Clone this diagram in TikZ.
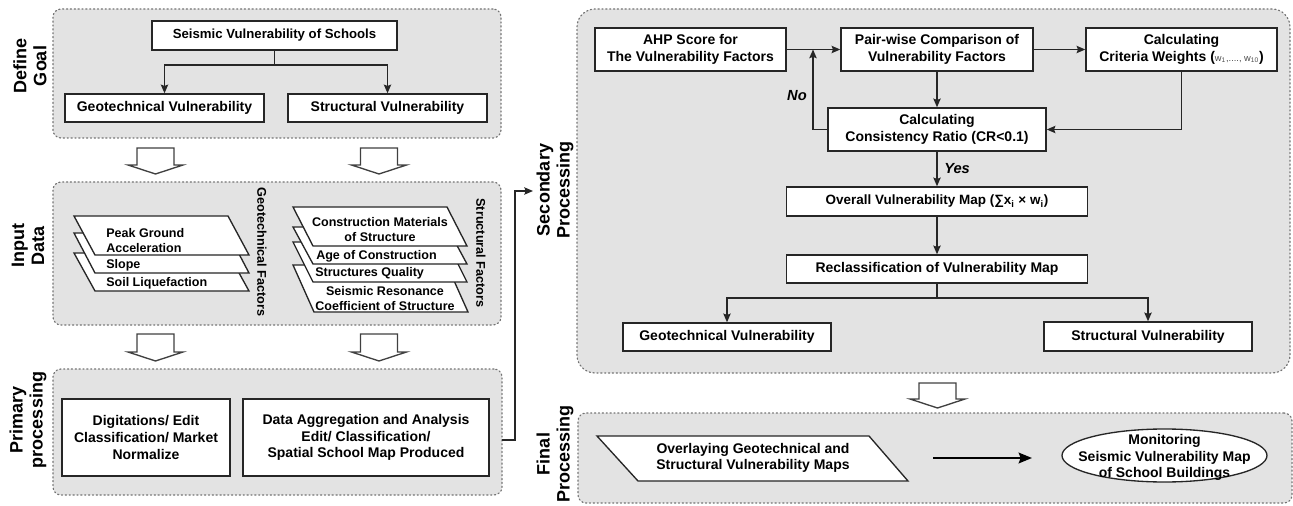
\documentclass[tikz,border=0pt]{standalone}
\usepackage{fontspec}
\setmainfont{Liberation Sans}
\usetikzlibrary{arrows.meta,shapes.geometric}
\newdimen\px \px=0.75pt
\newcommand\fs[2]{\fontsize{#1}{#2}\selectfont}
\newcommand\hollowarrow[3]{%
  \draw[hollow] (#1-18.5,#2) -- (#1+18.5,#2) -- (#1+18.5,#3-9) -- (#1+27.5,#3-9) -- (#1,#3) -- (#1-27.5,#3-9) -- (#1-18.5,#3-9) -- cycle;}
\newcommand\paral[5]{% xl, top, bottom, width, slant
  \draw[para] (#1,#2) -- (#1+#4,#2) -- (#1+#4+#5,#3) -- (#1+#5,#3) -- cycle;}
\begin{document}
\begin{tikzpicture}[x=0.75pt,y=-0.75pt,
  panel/.style={draw=black!55, dotted, line width=0.9pt, line cap=round, fill=black!11, rounded corners=8\px, inner sep=0pt},
  box/.style={draw=black!85, line width=1.1pt, fill=white, font=\bfseries\fs{10.5pt}{12.4pt}, align=center, inner sep=0pt},
  txt/.style={font=\bfseries\fs{10.5pt}{12.4pt}, align=center, inner sep=0pt},
  ptxt/.style={font=\bfseries\fs{9.4pt}{11.25pt}, inner sep=0pt},
  lab/.style={font=\bfseries\fs{13.5pt}{15pt}, align=center, rotate=90, inner sep=0pt},
  flab/.style={font=\bfseries\fs{9.5pt}{11pt}, rotate=-90, inner sep=0pt},
  yn/.style={font=\bfseries\itshape\fs{11pt}{13pt}, inner sep=0pt},
  para/.style={draw=black!85, line width=1pt, fill=white, line join=miter},
  hollow/.style={draw=black!75, line width=1pt, fill=white},
  arr/.style={draw=black!85, line width=1pt, -{Stealth[length=6.5pt,width=5.5pt,inset=1pt]}},
  line/.style={draw=black!85, line width=1pt},
  bigarr/.style={draw=black, line width=1.6pt, -{Stealth[length=10pt,width=8pt,inset=1.5pt]}}
]
\useasboundingbox (0,0) rectangle (1293,506);

% ---------- panels ----------
\node[panel, minimum width=448\px, minimum height=129\px] (pdef) at (277,73.5) {};
\node[panel, minimum width=448\px, minimum height=143\px] (pinp) at (277,253.5) {};
\node[panel, minimum width=449\px, minimum height=126\px] (pprim) at (277.5,432) {};
\node[panel, rounded corners=18\px, minimum width=713\px, minimum height=364\px] (psec) at (933.5,191) {};
\node[panel, minimum width=714\px, minimum height=90\px] (pfin) at (935,458) {};

% ---------- side labels ----------
\node[lab] (lDef) at (30,66) {Define\\Goal};
\node[lab] (lInp) at (28,246) {Input\\Data};
\node[lab] (lPri) at (28,420) {Primary\\processing};
\node[lab] (lSec) at (555,190) {Secondary\\Processing};
\node[lab] (lFin) at (555,454) {Final\\Processing};

% ---------- hollow arrows ----------
\hollowarrow{155.5}{148}{174}
\hollowarrow{379}{148}{174}
\hollowarrow{155.5}{334}{361}
\hollowarrow{379}{334}{361}
\hollowarrow{937.5}{383}{408}

% ---------- define goal ----------
\node[box, minimum width=245\px, minimum height=29\px, font=\bfseries\fs{9.9pt}{12pt}] (goal) at (274.5,35.5) {Seismic Vulnerability of Schools};
\node[box, minimum width=199\px, minimum height=28\px] (gv1) at (164.5,108) {Geotechnical Vulnerability};
\node[box, minimum width=199\px, minimum height=28\px] (sv1) at (387.5,108) {Structural Vulnerability};
\coordinate (gj) at (274.5,65);
\draw[line] (goal.south) -- (gj);
\draw[arr] (gj) -| (gv1.north);
\draw[arr] (gj) -| (sv1.north);

% ---------- input data ----------
\paral{74}{253}{291}{154}{21}
\paral{74}{233}{273}{154}{21}
\paral{74}{216}{255}{154}{21}
\node[ptxt, anchor=west, align=left] (pga) at (106,240.5) {Peak Ground\\Acceleration};
\node[ptxt, anchor=west] (slope) at (106,265) {Slope};
\node[ptxt, anchor=west] (soil) at (106,283) {Soil Liquefaction};
\node[flab] (gf) at (262,252) {Geotechnical Factors};

\paral{293}{265}{312}{154}{21}
\paral{293}{242}{282}{154}{20}
\paral{293}{227}{264}{154}{20}
\paral{293}{207}{246}{154}{20}
\node[ptxt, align=center] (cm) at (380,229.5) {Construction Materials\\of Structure};
\node[ptxt, anchor=west] (age) at (316,256.5) {Age of Construction};
\node[ptxt, anchor=west] (sq) at (315,273.5) {Structures Quality};
\node[ptxt, align=center] (sr) at (385,299) {Seismic Resonance\\Coefficient of Structure};
\node[flab] (sf) at (481,253) {Structural Factors};

% ---------- primary processing ----------
\node[box, minimum width=168\px, minimum height=77\px] (pr1) at (146,437.5) {Digitations/ Edit\\Classification/ Market\\Normalize};
\node[box, minimum width=246\px, minimum height=77\px] (pr2) at (366,437.5) {Data Aggregation and Analysis\\Edit/ Classification/\\Spatial School Map Produced};
\coordinate (ppout) at (502,440);
\coordinate (secin) at (533,191);
\draw[arr] (ppout) -- (515,440) |- (secin);

% ---------- secondary processing ----------
\node[box, minimum width=191\px, minimum height=43\px] (ahp) at (690.5,49.5) {AHP Score for\\The Vulnerability Factors};
\node[box, minimum width=192\px, minimum height=43\px] (pair) at (937,49.5) {Pair-wise Comparison of\\Vulnerability Factors};
\node[box, minimum width=191\px, minimum height=43\px] (crit) at (1181.5,49.5) {Calculating\\Criteria Weights ({\mdseries\fs{7pt}{8pt}\color{black!70}w\textsubscript{1},...., w\textsubscript{10}})};
\node[box, minimum width=218\px, minimum height=43\px] (cons) at (937,129.5) {Calculating\\Consistency Ratio (CR<0.1)};
\node[box, minimum width=301\px, minimum height=29\px, font=\bfseries\fs{10.1pt}{12pt}] (overall) at (937,201.5) {Overall Vulnerability Map (∑x\textsubscript{i} × w\textsubscript{i})};
\node[box, minimum width=301\px, minimum height=28\px] (reclass) at (937,269) {Reclassification of Vulnerability Map};
\node[box, minimum width=208\px, minimum height=28\px] (gv2) at (727,337) {Geotechnical Vulnerability};
\node[box, minimum width=208\px, minimum height=29\px] (sv2) at (1148,336.5) {Structural Vulnerability};

\draw[arr] (ahp.east) -- (pair.west);
\draw[arr] (pair.east) -- (crit.west);
\draw[arr] (pair.south) -- (cons.north);
\draw[arr] (crit.south) |- (cons.east);
\coordinate (nj) at (813,49.5);
\draw[arr] (cons.west) -| (nj);
\node[yn] (no) at (797,96) {No};
\draw[arr] (cons.south) -- (overall.north);
\node[yn, anchor=west] (yes) at (944,169) {Yes};
\draw[arr] (overall.south) -- (reclass.north);
\coordinate (rj) at (937,298);
\draw[line] (reclass.south) -- (rj);
\draw[arr] (rj) -| (gv2.north);
\draw[arr] (rj) -| (sv2.north);

% ---------- final processing ----------
\draw[para] (597,436) -- (869,436) -- (908,481) -- (638,481) -- cycle;
\node[txt] (ovl) at (753,458) {Overlaying Geotechnical and\\Structural Vulnerability Maps};
\node[draw=black!85, line width=1pt, fill=white, ellipse, minimum width=205\px, minimum height=53\px, inner sep=0pt] (monE) at (1164.5,455.5) {};
\node[txt] (mon) at (1164.5,457.5) {Monitoring\\Seismic Vulnerability Map\\of School Buildings};
\coordinate (fa1) at (933,458);
\coordinate (fa2) at (1032,458);
\draw[bigarr] (fa1) -- (fa2);
\end{tikzpicture}
\end{document}
